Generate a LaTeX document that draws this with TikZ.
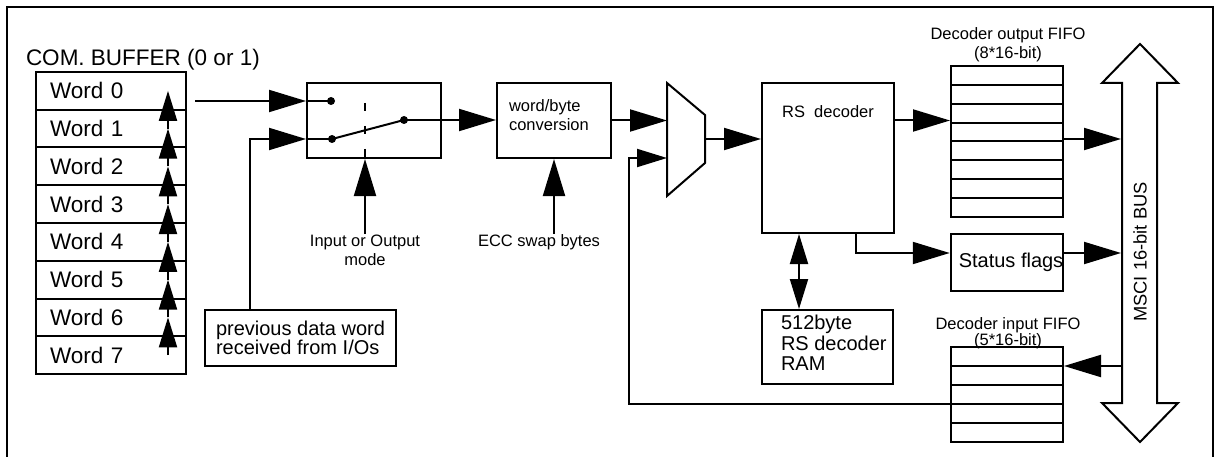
\documentclass[tikz,border=0pt]{standalone}
\usepackage{fontspec}
\setmainfont{Liberation Sans}
\usetikzlibrary{arrows.meta,calc}
\begin{document}
\begin{tikzpicture}[x=1pt,y=-1pt,
  line width=2pt,
  boxnode/.style={draw, rectangle, inner sep=0pt},
  bigarr/.style={-{Triangle[length=37pt,width=22pt]}},
  smallarr/.style={-{Triangle[length=30pt,width=18pt]}},
  dblarr/.style={{Triangle[length=30pt,width=18pt]}-{Triangle[length=30pt,width=18pt]}},
  fa/.style={font=\fontsize{22.5}{26}\selectfont},
  fb/.style={font=\fontsize{20}{20.5}\selectfont},
  fbb/.style={font=\fontsize{20}{19}\selectfont},
  fc/.style={font=\fontsize{16.5}{18.5}\selectfont},
  fcc/.style={font=\fontsize{16.5}{16}\selectfont},
  fcl/.style={font=\fontsize{16.5}{19}\selectfont},
  txt/.style={inner sep=0pt},
  wordrow/.style={draw, rectangle, fa, minimum width=150, minimum height=37.75,
    text width=122, align=left, inner xsep=14, inner ysep=0pt},
]
\useasboundingbox (0,0) rectangle (1217,457);
% outer frame
\draw[line width=2.5pt] (7,457) -- (7,7) -- (1213,7) -- (1213,457);

% COM buffer
\node[fa, txt, anchor=base west] (comlab) at (25,66) {COM. BUFFER (0 or 1)};
\foreach \i in {0,...,7}
  \node[wordrow] (w\i) at (111,{90.875+37.75*\i}) {Word \i};
\coordinate (ax) at (168,0);
\foreach \i/\j in {0/1,1/2,2/3,3/4,4/5,5/6,6/7}
  \draw[smallarr] (ax |- w\j) -- (ax |- w\i);

% switch
\node[boxnode, minimum width=134, minimum height=75] (sw) at (374,120.5) {};
\coordinate (s1) at (331,101);
\coordinate (s2) at (332,139);
\coordinate (s3) at (404,120);
\draw (sw.west |- s1) -- (s1);
\draw (sw.west |- s2) -- (s2);
\draw (s2) -- (s3);
\fill (s1) circle (4);
\fill (s2) circle (4);
\fill (s3) circle (4);
\coordinate (dsh) at (365,103);
\draw[dash pattern=on 8pt off 15pt] (dsh) -- (sw.south -| dsh);

\coordinate (w0o) at (195,101);
\draw[bigarr] (w0o) -- (sw.west |- s1);

\node[boxnode, fbb, align=left, inner xsep=11pt, minimum width=189, minimum height=56] (prev) at (300.5,338) {previous data word\\received from I/Os};
\coordinate (pv) at (250,0);
\draw[bigarr] (prev.north -| pv) |- (sw.west |- s2);

\node[fcl, txt, align=center, anchor=north] (iolab) at (365,234) {Input or Output\\mode};
\draw[bigarr] (iolab.north) -- (iolab.north |- sw.south);

% word/byte conversion
\node[boxnode, minimum width=114, minimum height=75] (wb) at (554,120.5) {};
\node[fcl, txt, align=left, anchor=north west] (wbt) at (508,99) {word/byte\\conversion};
\draw[bigarr] (s3) -- (wb.west |- s3);
\node[fc, txt, anchor=north] (ecc) at (539,234) {ECC swap bytes};
\draw[bigarr] (wb.south |- ecc.north) -- (wb.south);

% mux
\coordinate (m1) at (667,83);
\coordinate (m2) at (705,115);
\coordinate (m3) at (705,163);
\coordinate (m4) at (667,196);
\draw (m1) -- (m2) -- (m3) -- (m4) -- cycle;
\coordinate (mi1) at (667,120.5);
\coordinate (mi2) at (667,158);
\coordinate (mo) at (705,139);
\draw[bigarr] (wb.east) -- (mi1);

% RS decoder
\node[boxnode, minimum width=132, minimum height=150] (rs) at (828,158) {};
\node[fc, txt] (rst) at (828,112) {RS\ \ decoder};
\draw[bigarr] (mo) -- (rs.west |- mo);

% RAM
\node[boxnode, minimum width=131, minimum height=74] (ram) at (827.5,347) {};
\node[fb, txt, align=left, anchor=north west] (ramt) at (780,314.5) {512byte\\RS decoder\\RAM};
\coordinate (rr) at (799,0);
\draw[dblarr] (rs.south -| rr) -- (ram.north -| rr);

% output FIFO
\node[boxnode, minimum width=112, minimum height=151] (of) at (1007,141.5) {};
\foreach \k in {1,...,7}
  \draw (951,{66+18.875*\k}) -- (1063,{66+18.875*\k});
\node[fcl, txt, align=center, anchor=north] (oflab) at (1008,26.5) {Decoder output FIFO\\(8*16-bit)};
\draw[bigarr] (rs.east |- wb.east) -- (of.west |- wb.east);

% bus
\draw (1140,44) -- (1178,83) -- (1157,83) -- (1157,403) -- (1178,403) -- (1140,442)
  -- (1102,403) -- (1122,403) -- (1122,83) -- (1102,83) -- cycle;
\node[font=\fontsize{18.3}{20}\selectfont, txt, rotate=90] (bus) at (1140,252) {MSCI 16-bit BUS};
\coordinate (busL) at (1121,0);
\draw[bigarr] (of.east |- mo) -- (busL |- mo);

% status flags
\node[boxnode, fb, minimum width=112, minimum height=57] (st) at (1007,262.5) {\hspace*{8pt}Status flags};
\coordinate (ry) at (0,253);
\coordinate (rsd) at (856,0);
\draw[bigarr] (rs.south -| rsd) |- (st.west |- ry);
\draw[bigarr] (st.east |- ry) -- (busL |- ry);

% input FIFO
\node[boxnode, minimum width=112, minimum height=95] (infifo) at (1007,394.5) {};
\foreach \k in {1,...,4}
  \draw (951,{347+19*\k}) -- (1063,{347+19*\k});
\node[fcc, txt, align=center, anchor=north] (iflab) at (1008,316.5) {Decoder input FIFO\\(5*16-bit)};
\coordinate (iy) at (0,366);
\draw[bigarr] (busL |- iy) -- (infifo.east |- iy);
\coordinate (fy) at (0,404);
\coordinate (fbc) at (629,158);
\draw[smallarr] (infifo.west |- fy) -| (fbc) -- (mi2);
\end{tikzpicture}
\end{document}
